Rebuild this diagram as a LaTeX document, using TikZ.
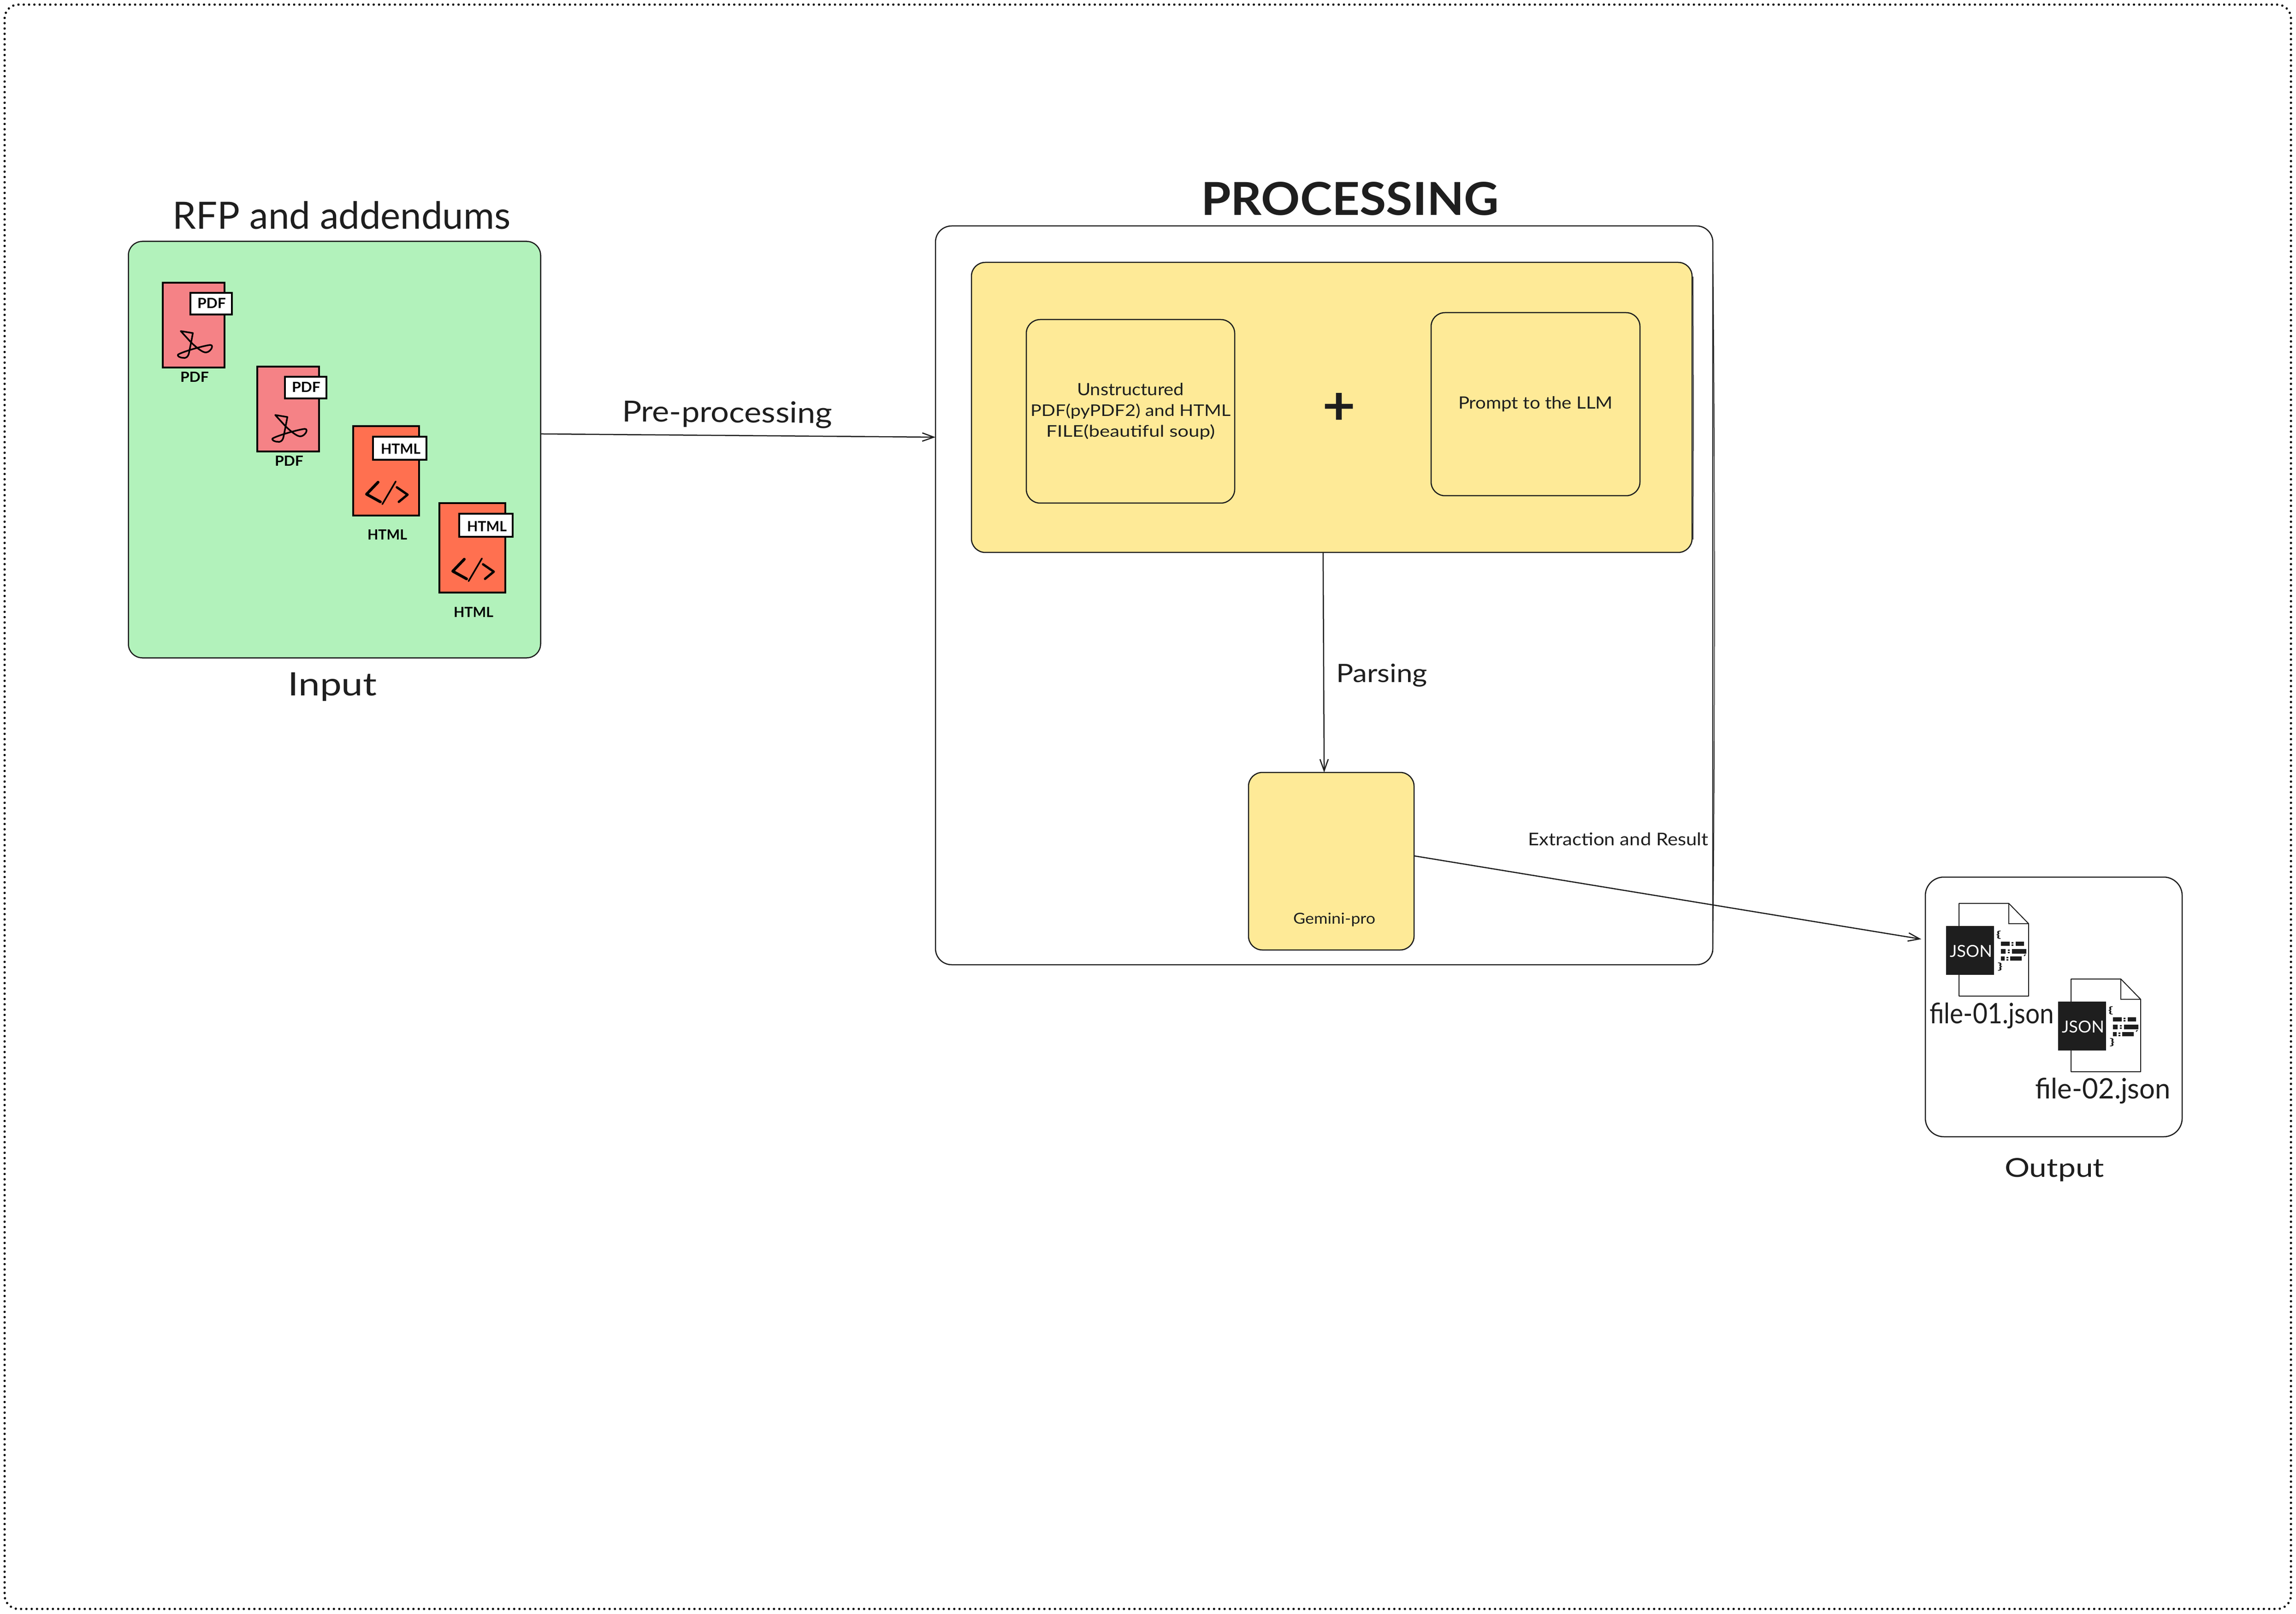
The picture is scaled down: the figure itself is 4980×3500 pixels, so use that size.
\documentclass[tikz,border=0pt]{standalone}
\usepackage{graphicx}
\usepackage{fontspec}
\setmainfont{Lato}
\usetikzlibrary{arrows.meta,calc}
\newdimen\pxu \pxu=0.2pt
\newcommand\fitto[3]{\resizebox{#1\pxu}{#2\pxu}{#3}}
\definecolor{ink}{HTML}{1E1E1E}
\definecolor{greenfill}{HTML}{B2F2BB}
\definecolor{yellowfill}{HTML}{FEEA97}
\definecolor{pdffill}{HTML}{F58286}
\definecolor{htmlfill}{HTML}{FF7050}
\tikzset{
  box/.style={draw=ink,line width=2.5\pxu,rounded corners=30\pxu,inner sep=0pt,outer sep=0pt},
  yellowbox/.style={box,fill=yellowfill},
  txt/.style={inner sep=0pt,outer sep=0pt,anchor=base,text=ink},
  blacktxt/.style={inner sep=0pt,outer sep=0pt,anchor=base,text=black,font=\bfseries},
  arr/.style={draw=ink,line width=2.5\pxu,-{Straight Barb[length=5pt,width=3.6pt]}},
  docbox/.style={draw=black,line width=3.5\pxu,inner sep=0pt,outer sep=0pt},
  tagbox/.style={draw=black,fill=white,line width=3.5\pxu,inner sep=0pt,outer sep=0pt},
  glyphline/.style={draw=black,line cap=round,line join=round},
  sketch/.style={draw=ink,line width=1.5\pxu},
  frame/.style={draw=black,line width=5\pxu,line cap=round,dash pattern=on 0pt off 11.5\pxu,rounded corners=30\pxu,inner sep=0pt,outer sep=0pt},
}
% PDF document icon; coordinates are those of the first icon
\newcommand\pdfdoc[3]{%
\begin{scope}[shift={(#2,#3)}]
  \node[docbox,fill=pdffill,minimum width=134\pxu,minimum height=184\pxu] (#1page) at (420,705) {};
  \node[tagbox,minimum width=90\pxu,minimum height=47\pxu] (#1tagbox) at (458,658.5) {};
  \node[blacktxt] (#1tag) at (459,669) {\fitto{62}{22}{PDF}};
  \node[blacktxt] (#1label) at (422,829) {\fitto{62}{22}{PDF}};
  \draw[glyphline,line width=3.5\pxu] (392,718) -- (418.3,722.3) .. controls (416,735) and (412,755) .. (410,765)
    .. controls (408,775) and (402,777) .. (398,776) .. controls (390,776) and (384,772) .. (386,769)
    .. controls (395,763) and (440,750) .. (456,748) .. controls (462,748) and (460,754) .. (458,757)
    .. controls (454,763) and (448,765) .. (444,764) .. controls (435,762) and (420,748) .. (413,741) -- (392,718);
\end{scope}}
% HTML document icon
\newcommand\htmldoc[3]{%
\begin{scope}[shift={(#2,#3)}]
  \node[docbox,fill=htmlfill,minimum width=143\pxu,minimum height=194\pxu] (#1page) at (837.5,1021) {};
  \node[tagbox,minimum width=116\pxu,minimum height=50\pxu] (#1tagbox) at (867,972) {};
  \node[blacktxt] (#1tag) at (869,985) {\fitto{86}{22}{HTML}};
  \node[blacktxt] (#1label) at (840,1171) {\fitto{86}{22}{HTML}};
  \draw[glyphline,line width=6\pxu] (820,1045.7) -- (795,1071.7) -- (825,1088.3);
  \draw[glyphline,line width=3.5\pxu] (858.3,1044) -- (829.3,1093.3);
  \draw[glyphline,line width=5\pxu] (860.7,1056.7) -- (884,1072.7) -- (865,1088.3);
\end{scope}}
% JSON file icon
\newcommand\jsondoc[6]{%
\begin{scope}[shift={(#2,#3)}]
  \draw[draw=ink,fill=white,line width=2\pxu,line join=round] (4249,1959) -- (4357,1959) -- (4400,2003) -- (4400,2160) -- (4249,2160) -- cycle;
  \draw[draw=ink,line width=2\pxu] (4357,1959) -- (4357,2003) -- (4400,2003);
  \node[fill=ink,inner sep=0pt,outer sep=0pt,minimum width=104\pxu,minimum height=106\pxu] (f#1tagbox) at (4273,2061) {};
  \node[inner sep=0pt,outer sep=0pt,anchor=base,text=white] (f#1tag) at (4275,2075) {\fitto{92}{26}{JSON}};
  \node[txt] (f#1open) at (4335,2033) {\fitto{11}{15}{\bfseries\{}};
  \node[txt] (f#1close) at (4338,2102) {\fitto{11}{15}{\bfseries\}}};
  \fill[ink] (4340,2042) rectangle (4359,2051) (4363,2043) rectangle (4367,2046) (4363,2048) rectangle (4367,2051) (4372,2042) rectangle (4390,2051);
  \fill[ink] (4340,2058) rectangle (4350,2068) (4355,2059) rectangle (4359,2062) (4355,2064) rectangle (4359,2067) (4364,2058) rectangle (4395,2068);
  \fill[ink] (4340,2074) rectangle (4348,2083) (4352,2075) rectangle (4356,2078) (4352,2080) rectangle (4356,2083) (4360,2074) rectangle (4385,2083);
  \draw[ink,line width=2\pxu] (4393,2070) -- (4390,2073);
\end{scope}
\node[txt] (f#1label) at (#4,#5) {\fitto{#6}{45}{file-#1.json}};}
\begin{document}
\begin{tikzpicture}[x=0.2pt,y=-0.2pt]
\useasboundingbox (0,0) rectangle (4980,3500);
\node[frame,minimum width=4959\pxu,minimum height=3479\pxu] (border) at (2489.5,1749.5) {};

% Input
\node[box,fill=greenfill,minimum width=894\pxu,minimum height=903\pxu] (input) at (725.5,975) {};
\node[txt] (rfp) at (741,497) {\fitto{733}{60}{RFP and addendums}};
\node[txt] (inputlabel) at (721,1508) {\fitto{193}{50}{Input}};
\pdfdoc{pa}{0}{0}
\pdfdoc{pb}{205}{182}
\htmldoc{ha}{0}{0}
\htmldoc{hb}{187}{167}

% Processing
\node[box,rounded corners=35\pxu,minimum width=1686\pxu,minimum height=1602\pxu] (processing) at (2872,1291) {};
\draw[sketch] (3715,525) .. controls (3720,1000) and (3720,1600) .. (3715,2065);
\node[txt] (proctitle) at (2928,467) {\fitto{646}{72}{\bfseries PROCESSING}};
\node[yellowbox,minimum width=1563\pxu,minimum height=629\pxu] (prep) at (2888.5,883.5) {};
\draw[sketch] (3672,600) .. controls (3673,800) and (3673,1000) .. (3672,1170);
\node[yellowbox,minimum width=452\pxu,minimum height=398\pxu,align=center,text=ink,font=\fontsize{10}{9}\selectfont] (unstructured) at (2452,892)
  {\fitto{232}{27}{Unstructured}\\\fitto{434}{27}{PDF(pyPDF2) and HTML}\\\fitto{366}{27}{FILE(beautiful soup)}};
\node[yellowbox,minimum width=453\pxu,minimum height=397\pxu,text=ink] (prompt) at (3330.5,876.5) {\fitto{335}{27}{Prompt to the LLM}};
\node[inner sep=0pt,outer sep=0pt,text=ink,anchor=center] (plus) at (2904,887) {\fitto{72}{68}{\bfseries +}};
\node[yellowbox,minimum width=359\pxu,minimum height=385\pxu] (gemini) at (2887.5,1867.5) {};
\node[txt] (geminilabel) at (2894,2003) {\fitto{178}{24}{Gemini-pro}};

% Output
\node[box,rounded corners=40\pxu,minimum width=557\pxu,minimum height=563\pxu] (output) at (4454.5,2183.5) {};
\node[txt] (outputlabel) at (4456,2552) {\fitto{216}{41}{Output}};
\jsondoc{01}{0}{0}{4320}{2219}{270}
\jsondoc{02}{243}{164}{4561}{2382}{293}

% Connectors
\draw[arr] ($(input.north east)!0.4623!(input.south east)$) -- ($(processing.north west)!0.2859!(processing.south west)$);
\node[txt,rotate=-0.4] (prelabel) at (1577,916) {\fitto{456}{46}{Pre-processing}};
\draw[arr] ($(prep.south west)!0.488!(prep.south east)$) -- ($(gemini.north west)!0.457!(gemini.north east)$);
\node[txt] (parselabel) at (2997,1479) {\fitto{198}{40}{Parsing}};
\draw[arr,shorten >=9\pxu] ($(gemini.north east)!0.47!(gemini.south east)$) -- ($(output.north west)!0.2416!(output.south west)$);
\node[txt] (extractlabel) at (3510,1833) {\fitto{391}{28}{Extraction and Result}};
\end{tikzpicture}
\end{document}
